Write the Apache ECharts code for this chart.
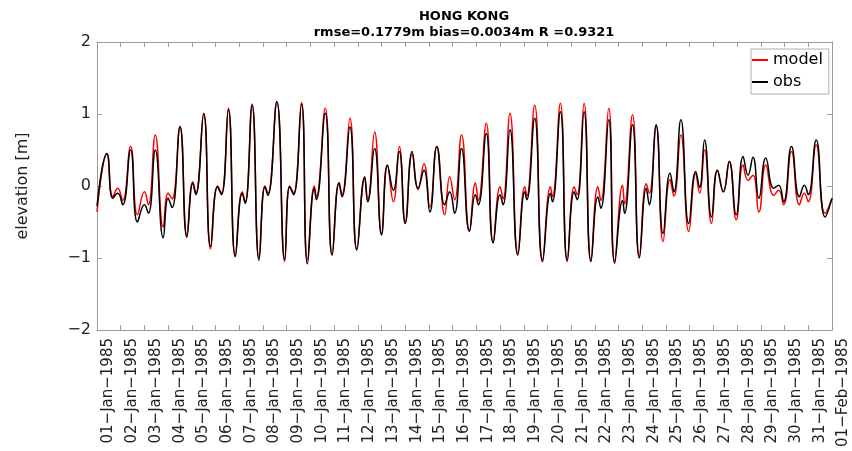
<!DOCTYPE html>
<html>
<head>
<meta charset="utf-8">
<script src="https://cdn.jsdelivr.net/npm/echarts@6/dist/echarts.min.js"></script>
<style>
  html, body { margin: 0; padding: 0; background: #fff; }
  #chart-container { width: 852px; height: 451px; }
</style>
</head>
<body>
<div id="chart-container"></div>
<script>
// hours since 01-Jan-1985 00:00, read at the turning points of the curves
let hours = [0, 10, 16, 21, 26, 34, 41, 48, 52, 59, 67, 72, 76, 84, 91, 97, 100, 108, 115, 122,
  126, 133, 140, 147, 150, 157, 164, 170, 173, 182, 190, 195, 199, 207, 213, 220, 222, 231, 238, 245,
  248, 256, 263, 271, 274, 281, 288, 294, 300, 306, 312, 319, 325, 331, 337, 344, 352, 357, 362, 369,
  377, 383, 386, 394, 401, 408, 411, 418, 426, 433, 435, 443, 451, 459, 461, 469, 476, 483, 486, 493,
  500, 507, 510, 518, 524, 532, 534, 542, 549, 556, 559, 566, 573, 580, 584, 591, 599, 606, 610, 615,
  622, 628, 634, 640, 647, 654, 659, 664, 670, 677, 685, 690, 695, 703, 711, 716, 720, 728, 737, 744];

let obs = [-0.28, 0.45, -0.17, -0.10, -0.26, 0.50, -0.50, -0.26, -0.38, 0.50, -0.72, -0.17, -0.30, 0.82, -0.71, 0.04, -0.12, 1.00, -0.84, -0.01,
  -0.12, 1.06, -0.98, -0.10, -0.24, 1.12, -1.03, -0.01, -0.13, 1.17, -1.02, -0.01, -0.12, 1.14, -1.08, -0.03, -0.19, 1.01, -0.96, 0.04,
  -0.15, 0.82, -0.89, 0.13, -0.22, 0.52, -0.68, 0.29, -0.06, 0.48, -0.52, 0.48, -0.03, 0.22, -0.36, 0.55, -0.26, -0.08, -0.38, 0.52,
  -0.63, -0.12, -0.26, 0.73, -0.79, -0.12, -0.26, 0.78, -0.96, -0.08, -0.19, 0.94, -1.05, -0.10, -0.22, 1.03, -1.03, -0.08, -0.19, 1.03,
  -1.05, -0.15, -0.31, 0.92, -1.07, -0.20, -0.38, 0.85, -1.00, -0.03, -0.26, 0.85, -0.66, 0.18, -0.08, 0.92, -0.52, 0.20, -0.02, 0.64,
  -0.43, 0.22, -0.08, 0.34, -0.40, 0.41, 0.15, 0.40, -0.17, 0.39, -0.03, 0.01, -0.22, 0.55, -0.15, 0.01, -0.12, 0.64, -0.43, -0.17];

let model = [-0.36, 0.44, -0.15, -0.03, -0.20, 0.55, -0.40, -0.08, -0.26, 0.71, -0.57, -0.10, -0.18, 0.83, -0.68, 0.06, -0.10, 1.01, -0.87, 0.00,
  -0.10, 1.08, -0.97, -0.08, -0.22, 1.14, -1.00, 0.00, -0.10, 1.17, -1.05, 0.00, -0.10, 1.16, -1.03, 0.00, -0.15, 1.08, -0.95, 0.05,
  -0.12, 0.94, -0.87, 0.10, -0.20, 0.75, -0.66, 0.28, -0.22, 0.55, -0.50, 0.44, -0.05, 0.31, -0.29, 0.55, -0.40, 0.13, -0.19, 0.71,
  -0.62, 0.04, -0.20, 0.87, -0.78, -0.01, -0.18, 1.01, -0.93, -0.01, -0.14, 1.12, -1.02, -0.01, -0.15, 1.15, -1.05, -0.01, -0.12, 1.15,
  -1.03, -0.01, -0.20, 1.08, -1.04, 0.01, -0.25, 0.99, -0.98, 0.03, -0.10, 0.83, -0.77, 0.09, -0.14, 0.71, -0.63, 0.17, -0.10, 0.50,
  -0.52, 0.22, -0.08, 0.34, -0.47, 0.29, 0.08, 0.15, -0.36, 0.29, -0.13, -0.06, -0.26, 0.48, -0.26, -0.10, -0.22, 0.57, -0.38, -0.17];

let dayLabels = ['01−Jan−1985', '02−Jan−1985', '03−Jan−1985', '04−Jan−1985', '05−Jan−1985', '06−Jan−1985',
  '07−Jan−1985', '08−Jan−1985', '09−Jan−1985', '10−Jan−1985', '11−Jan−1985', '12−Jan−1985', '13−Jan−1985',
  '14−Jan−1985', '15−Jan−1985', '16−Jan−1985', '17−Jan−1985', '18−Jan−1985', '19−Jan−1985', '20−Jan−1985',
  '21−Jan−1985', '22−Jan−1985', '23−Jan−1985', '24−Jan−1985', '25−Jan−1985', '26−Jan−1985', '27−Jan−1985',
  '28−Jan−1985', '29−Jan−1985', '30−Jan−1985', '31−Jan−1985', '01−Feb−1985'];

let yTicks = [-2, -1, 0, 1, 2];
let yTickLabels = ['−2', '−1', '0', '1', '2'];

function init() {
  let font = 'DejaVu Sans';
  let boxColor = '#9a9a9a';

  function pairs(values) {
    return hours.map((h, i) => [h, values[i]]);
  }
  function buildSeries(name, color, values) {
    return {
      name,
      type: 'line',
      symbol: 'none',
      smooth: true,
      xAxisIndex: 0,
      yAxisIndex: 0,
      lineStyle: {
        color,
        width: 1.5
      },
      itemStyle: {
        color
      },
      data: pairs(values)
    };
  }
  function xAxisBase(position) {
    return {
      type: 'value',
      position,
      min: 0,
      max: 744,
      interval: 24,
      splitLine: { show: false },
      axisLine: { onZero: false, lineStyle: { color: boxColor, width: 1 } },
      axisTick: { inside: true, length: 5, lineStyle: { color: boxColor } }
    };
  }
  function yAxisBase(position) {
    return {
      type: 'value',
      position,
      min: -2,
      max: 2,
      interval: 1,
      splitLine: { show: false },
      axisLine: { show: true, onZero: false, lineStyle: { color: boxColor, width: 1 } },
      axisTick: { show: true, inside: true, length: 5, lineStyle: { color: boxColor } }
    };
  }

  let option = {
    animation: false,
    backgroundColor: '#fff',
    title: {
      text: 'HONG KONG\nrmse=0.1779m bias=0.0034m R =0.9321',
      left: 464,
      top: 9,
      padding: 0,
      textAlign: 'center',
      textStyle: {
        fontFamily: font,
        fontSize: 13,
        fontWeight: 'bold',
        color: '#000',
        lineHeight: 16
      }
    },
    legend: {
      orient: 'vertical',
      left: 751,
      top: 49,
      padding: [2, 6, 3, 1],
      itemGap: 4,
      itemWidth: 16,
      itemHeight: 2,
      icon: 'rect',
      backgroundColor: '#fff',
      borderColor: '#b0b0b0',
      borderWidth: 1,
      borderRadius: 0,
      textStyle: {
        fontFamily: font,
        fontSize: 16,
        color: '#000',
        lineHeight: 18
      },
      data: ['model', 'obs']
    },
    grid: {
      left: 97,
      right: 20,
      top: 42,
      bottom: 121,
      containLabel: false,
      outerBoundsMode: 'none'
    },
    xAxis: [
      {
        ...xAxisBase('bottom'),
        axisLabel: {
          rotate: 90,
          margin: 8,
          fontFamily: font,
          fontSize: 15,
          color: '#222',
          verticalAlign: 'top',
          lineHeight: 23,
          hideOverlap: false,
          showMinLabel: true,
          showMaxLabel: true,
          formatter: (v) => dayLabels[Math.round(v / 24)]
        }
      },
      {
        ...xAxisBase('top'),
        axisLabel: { show: false }
      }
    ],
    yAxis: [
      {
        ...yAxisBase('left'),
        name: 'elevation [m]',
        nameLocation: 'middle',
        nameGap: 66,
        nameTextStyle: {
          fontFamily: font,
          fontSize: 16,
          color: '#222'
        },
        axisLabel: {
          margin: 6,
          fontFamily: font,
          fontSize: 16,
          color: '#222',
          formatter: (v) => yTickLabels[yTicks.indexOf(v)]
        }
      },
      {
        ...yAxisBase('right'),
        axisLabel: { show: false }
      }
    ],
    series: [
      buildSeries('model', '#ff0000', model),
      buildSeries('obs', '#000000', obs)
    ]
  };

  var myChart = echarts.init(document.getElementById('chart-container'));
  myChart.setOption(option);
  window.addEventListener('resize', myChart.resize);
}
init();
</script>
</body>
</html>
